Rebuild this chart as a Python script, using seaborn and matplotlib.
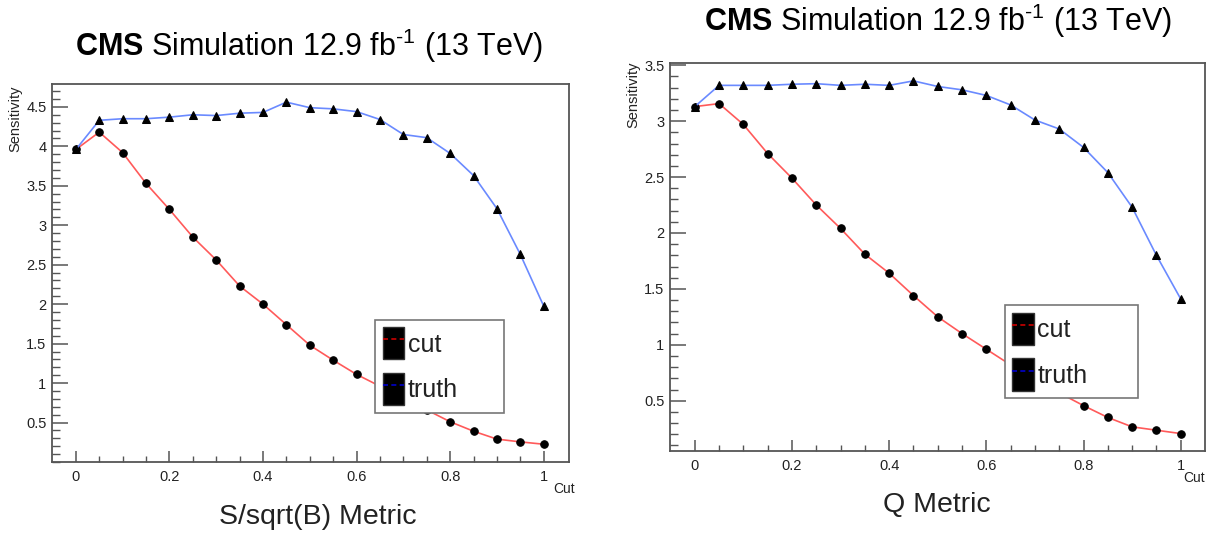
import matplotlib
matplotlib.use("Agg")
import matplotlib.pyplot as plt
import seaborn as sns
import pandas as pd
from matplotlib.ticker import FixedLocator, MultipleLocator, FuncFormatter
from matplotlib.patches import Patch
from matplotlib.lines import Line2D
from matplotlib.legend_handler import HandlerTuple

# ---------------- data ----------------
cut_points = [0.00, 0.05, 0.10, 0.15, 0.20, 0.25, 0.30, 0.35, 0.40, 0.45, 0.50,
              0.55, 0.60, 0.65, 0.70, 0.75, 0.80, 0.85, 0.90, 0.95, 1.00]

ssb_cut = [3.96, 4.18, 3.92, 3.53, 3.20, 2.85, 2.56, 2.23, 2.00, 1.74, 1.48,
           1.29, 1.11, 0.96, 0.81, 0.66, 0.51, 0.39, 0.29, 0.255, 0.225]
ssb_truth = [3.96, 4.33, 4.35, 4.35, 4.37, 4.40, 4.39, 4.42, 4.43, 4.56, 4.49,
             4.475, 4.44, 4.34, 4.15, 4.11, 3.91, 3.63, 3.21, 2.63, 1.975]

q_cut = [3.13, 3.157, 2.97, 2.71, 2.49, 2.25, 2.04, 1.81, 1.64, 1.44, 1.25,
         1.10, 0.96, 0.82, 0.69, 0.57, 0.456, 0.35, 0.266, 0.236, 0.206]
q_truth = [3.13, 3.32, 3.32, 3.32, 3.33, 3.335, 3.32, 3.33, 3.32, 3.36, 3.31,
           3.28, 3.23, 3.145, 3.01, 2.93, 2.765, 2.54, 2.23, 1.80, 1.41]

series_labels = ["cut", "truth"]
x_major_ticks = [0.0, 0.2, 0.4, 0.6, 0.8, 1.0]
ssb_yticks = [0.5, 1.0, 1.5, 2.0, 2.5, 3.0, 3.5, 4.0, 4.5]
q_yticks = [0.5, 1.0, 1.5, 2.0, 2.5, 3.0, 3.5]
title_text = r"$\mathbf{CMS}$ Simulation 12.9 fb$^{\text{-}1}$ (13 TeV)"
metric_labels = ["S/sqrt(B) Metric", "Q Metric"]

# ---------------- style ----------------
sns.set_style("ticks")
plt.rcParams["font.family"] = ["Liberation Sans", "DejaVu Sans"]
plt.rcParams["mathtext.fontset"] = "custom"
plt.rcParams["mathtext.rm"] = "Liberation Sans"
plt.rcParams["mathtext.bf"] = "Liberation Sans:bold"
plt.rcParams["mathtext.it"] = "Liberation Sans:italic"

RED = "#ff5a5a"
BLUE = "#6a8aff"
FRAME = "#555555"
TXT = "#222222"

W, H = 1216, 533
fig = plt.figure(figsize=(W / 100, H / 100), dpi=100)


def px_axes(x0, y0, x1, y1):
    return fig.add_axes([x0 / W, 1 - y1 / H, (x1 - x0) / W, (y1 - y0) / H])


def draw_panel(ax, cut_vals, truth_vals, xlim, ylim, yticks, leg_box):
    df = pd.DataFrame({
        "Cut": cut_points * 2,
        "Sensitivity": list(cut_vals) + list(truth_vals),
        "series": [series_labels[0]] * len(cut_points) + [series_labels[1]] * len(cut_points),
    })
    sns.lineplot(data=df[df.series == "cut"], x="Cut", y="Sensitivity", ax=ax,
                 color=RED, lw=1.2, marker="o", ms=5.4, mfc="k", mec="k",
                 legend=False, zorder=3)
    sns.lineplot(data=df[df.series == "truth"], x="Cut", y="Sensitivity", ax=ax,
                 color=BLUE, lw=1.2, marker="^", ms=5.2, mfc="k", mec="k",
                 legend=False, zorder=3)
    ax.set_xlim(*xlim)
    ax.set_ylim(*ylim)
    ax.set_xlabel("")
    ax.set_ylabel("")
    for s in ax.spines.values():
        s.set_visible(True)
        s.set_color(FRAME)
        s.set_linewidth(1.3)
    ax.xaxis.set_major_locator(FixedLocator(x_major_ticks))
    ax.xaxis.set_minor_locator(FixedLocator(cut_points))
    ax.yaxis.set_major_locator(FixedLocator(yticks))
    ax.yaxis.set_minor_locator(MultipleLocator(0.1))
    fmt = FuncFormatter(lambda v, p: f"{v:g}")
    ax.xaxis.set_major_formatter(fmt)
    ax.yaxis.set_major_formatter(fmt)
    ax.tick_params(axis="x", which="major", direction="in", length=8, width=1.1,
                   color=FRAME, labelsize=10.5, labelcolor=TXT, pad=6)
    ax.tick_params(axis="x", which="minor", direction="in", length=4, width=1.0,
                   color=FRAME)
    ax.tick_params(axis="y", which="major", direction="in", length=11.5, width=1.1,
                   color=FRAME, labelsize=10.5, labelcolor=TXT, pad=4)
    ax.tick_params(axis="y", which="minor", direction="in", length=5.5, width=1.0,
                   color=FRAME)
    ax.tick_params(top=False, right=False)

    handles = [
        (Patch(facecolor="black", edgecolor="#333333"),
         Line2D([], [], color="#cc0000", ls=(0, (3, 2)), lw=1.2)),
        (Patch(facecolor="black", edgecolor="#333333"),
         Line2D([], [], color="#0000cc", ls=(0, (3, 2)), lw=1.2)),
    ]
    leg = ax.legend(handles, series_labels, handler_map={tuple: HandlerTuple(ndivide=1)},
                    loc="upper left", bbox_to_anchor=leg_box, mode="expand",
                    fontsize=18, handlelength=0.85, handleheight=1.6,
                    handletextpad=0.15, labelspacing=0.55, borderpad=0.3,
                    borderaxespad=0, fancybox=False, framealpha=1,
                    edgecolor="#777777")
    leg.get_frame().set_linewidth(1.2)
    for t in leg.get_texts():
        t.set_color(TXT)


# left panel: S/sqrt(B)
axL = px_axes(52, 84, 569, 462)
draw_panel(axL, ssb_cut, ssb_truth, (-0.051, 1.054), (0.0, 4.79), ssb_yticks,
           (0.625, 0.132, 0.249, 0.244))
# right panel: Q
axR = px_axes(670, 63, 1205, 451)
draw_panel(axR, q_cut, q_truth, (-0.051, 1.05), (0.05, 3.52), q_yticks,
           (0.626, 0.124, 0.249, 0.252))

# titles
fig.text(309 / W, 1 - 46 / H, title_text, ha="center", va="center", fontsize=22, color="black")
fig.text(938 / W, 1 - 21 / H, title_text, ha="center", va="center", fontsize=22, color="black")

# metric labels
fig.text(318 / W, 1 - 517 / H, metric_labels[0], ha="center", va="center", fontsize=20.5, color=TXT)
fig.text(937 / W, 1 - 505 / H, metric_labels[1], ha="center", va="center", fontsize=20.5, color=TXT)

# axis titles (ROOT style)
fig.text(575 / W, 1 - 489 / H, "Cut", ha="right", va="center", fontsize=10, color=TXT)
fig.text(1205 / W, 1 - 478 / H, "Cut", ha="right", va="center", fontsize=10, color=TXT)
fig.text(15 / W, 1 - 85 / H, "Sensitivity", ha="center", va="top", rotation=90, fontsize=10.5, color=TXT)
fig.text(633 / W, 1 - 62 / H, "Sensitivity", ha="center", va="top", rotation=90, fontsize=10.5, color=TXT)

fig.savefig("out.png", dpi=100)
